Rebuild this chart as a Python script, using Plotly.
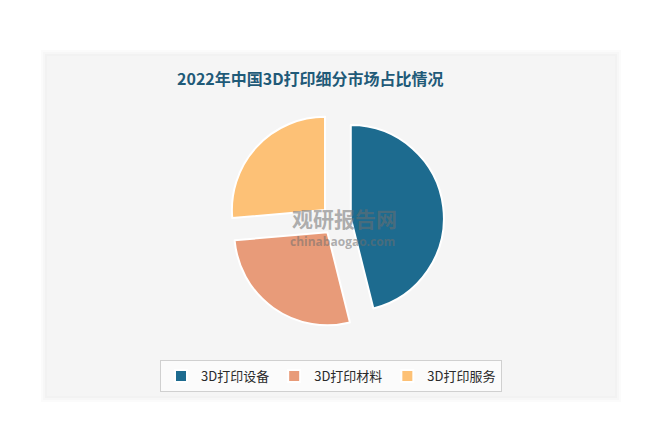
import plotly.graph_objects as go

categories = ["3D打印设备", "3D打印材料", "3D打印服务"]
shares = [46.1, 27.5, 26.4]
colors = ["#1d6b8f", "#e89b79", "#fdc176"]
title_text = "2022年中国3D打印细分市场占比情况"

# page has an 8px body margin; figure drawn in page coordinates shifted by it
OFF = 8
W, H = 660 - OFF, 446 - OFF

def px(x):
    return (x - OFF) / W

def py(y):
    return 1 - (y - OFF) / H

fig = go.Figure()
fig.add_trace(go.Pie(
    labels=categories,
    values=shares,
    sort=False,
    direction="clockwise",
    rotation=0,
    pull=[0.16, 0.16, 0.16],
    textinfo="none",
    hoverinfo="label+percent",
    marker=dict(colors=colors, line=dict(color="#ffffff", width=2)),
    domain=dict(x=[px(336 - 108), px(336 + 108)], y=[py(220 + 108), py(220 - 108)]),
))

shapes = []
for i, c in enumerate(["#fbfbfb", "#f7f7f7", "#f2f2f2"]):
    d = 6 - 2 * i
    shapes.append(dict(type="rect", xref="paper", yref="paper",
                       x0=px(47 - d), x1=px(615 + d), y0=py(396 + d), y1=py(56 - d),
                       fillcolor=c, line=dict(width=0), layer="below"))
shapes.append(dict(type="rect", xref="paper", yref="paper",
                   x0=px(47), x1=px(615), y0=py(396), y1=py(56),
                   fillcolor="#f5f5f5", line=dict(width=0), layer="below"))

annotations = [
    dict(text="<b>" + title_text + "</b>", x=px(175), y=py(78), xref="paper", yref="paper",
         xanchor="left", yanchor="middle", showarrow=False,
         font=dict(family="Noto Sans CJK SC", size=16, color="#1f5a78")),
    dict(text="<b>观研报告网</b>", x=px(344), y=py(218), xref="paper", yref="paper",
         xanchor="center", yanchor="middle", showarrow=False,
         font=dict(family="Noto Sans CJK SC", size=21, color="rgba(110,110,110,0.55)")),
    dict(text="<b>chinabaogao.com</b>", x=px(342), y=py(241), xref="paper", yref="paper",
         xanchor="center", yanchor="middle", showarrow=False,
         font=dict(family="Open Sans", size=12, color="rgba(110,110,110,0.55)")),
]

fig.update_layout(
    width=W, height=H,
    margin=dict(l=0, r=0, t=0, b=0),
    paper_bgcolor="#ffffff",
    plot_bgcolor="#ffffff",
    shapes=shapes,
    annotations=annotations,
    showlegend=True,
    legend=dict(
        orientation="h",
        x=px(331), y=py(376), xanchor="center", yanchor="middle",
        bgcolor="rgba(255,255,255,0.6)", bordercolor="#d0d0d0", borderwidth=1,
        font=dict(family="Noto Sans CJK SC", size=13, color="#2a2a2a"),
        traceorder="normal",
    ),
)

fig.write_html("out.html")
